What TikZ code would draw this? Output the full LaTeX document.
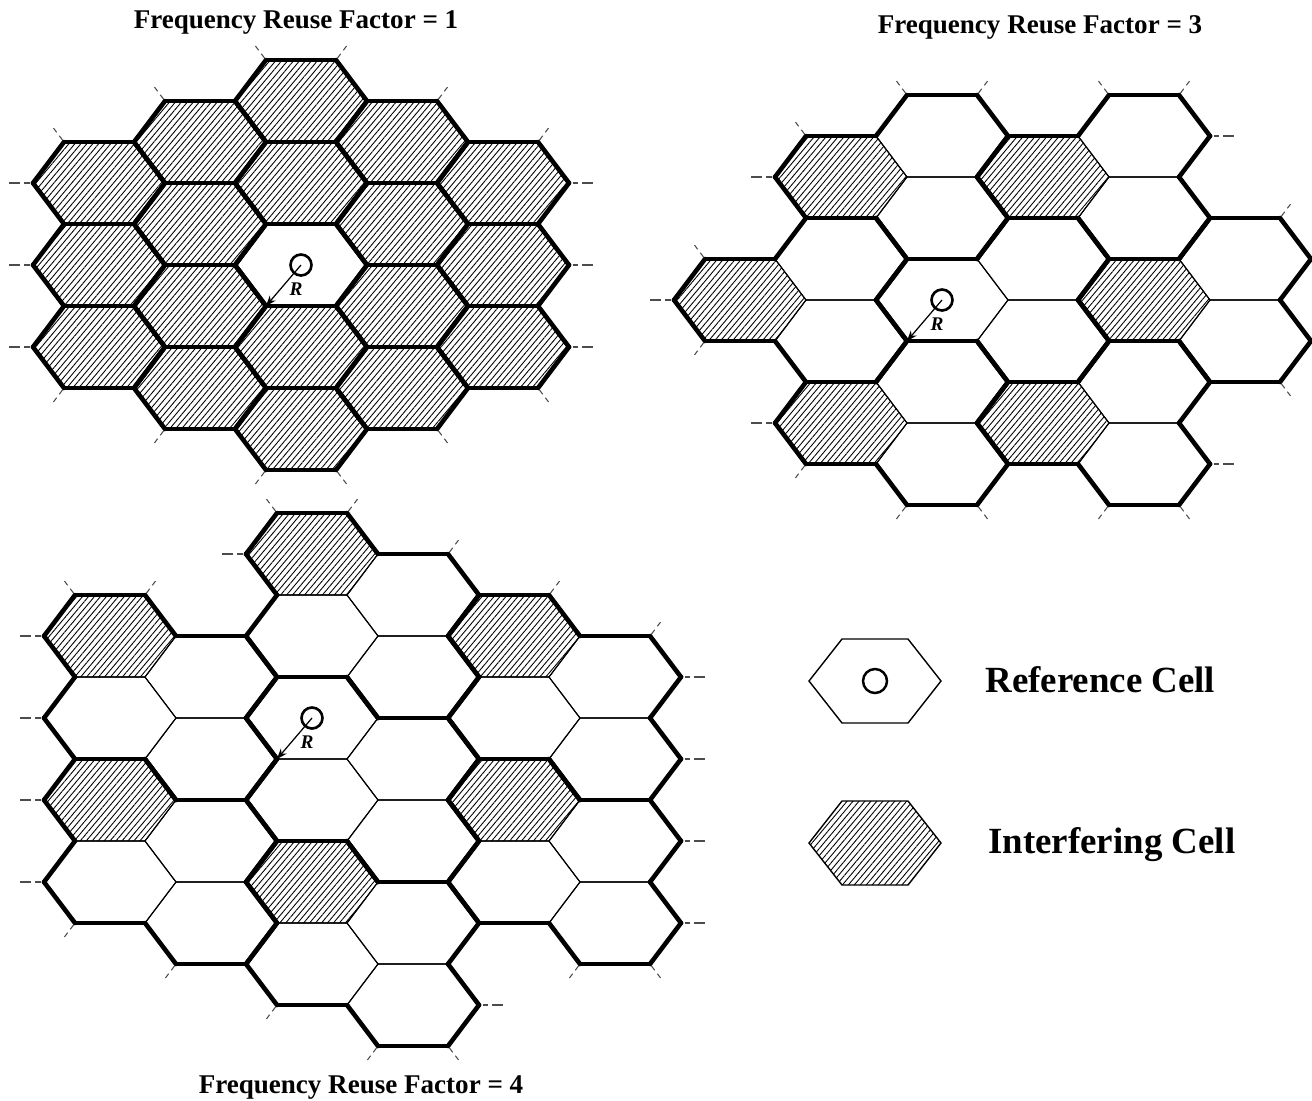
\documentclass[tikz,border=0pt]{standalone}
\usepackage{fontspec}
\setmainfont{Liberation Serif}
\usepackage{tikz}
\usetikzlibrary{patterns.meta,arrows.meta}

\pgfdeclarelayer{stubs}
\pgfdeclarelayer{thinl}
\pgfdeclarelayer{thickl}
\pgfsetlayers{stubs,main,thinl,thickl}

% one cell: centre x, centre y (px), fill style, edges drawn thick
\newcommand{\hexcell}[4]{%
  \begin{pgfonlayer}{stubs}
    \foreach \vx/\vy/\dx/\dy in {66/0/70/0, 35/-41/31/-41, -35/-41/-31/-41,
                                 -66/0/-70/0, -35/41/-31/41, 35/41/31/41}
      \draw[stub] ({#1+\vx+0.05*\dx},{#2+\vy+0.05*\dy})
               -- ({#1+\vx+0.34*\dx},{#2+\vy+0.34*\dy});
  \end{pgfonlayer}
  \path ({#1+66},{#2}) coordinate (v0) ({#1+35},{#2-41}) coordinate (v1)
        ({#1-35},{#2-41}) coordinate (v2) ({#1-66},{#2}) coordinate (v3)
        ({#1-35},{#2+41}) coordinate (v4) ({#1+35},{#2+41}) coordinate (v5)
        ({#1+66},{#2}) coordinate (v6);
  \fill[#3] (v0) -- (v1) -- (v2) -- (v3) -- (v4) -- (v5) -- cycle;
  \begin{pgfonlayer}{thinl}
    \draw[thinedge] (v0) -- (v1) -- (v2) -- (v3) -- (v4) -- (v5) -- cycle;
  \end{pgfonlayer}
  \begin{pgfonlayer}{thickl}
    \foreach \k in {#4} {\pgfmathtruncatemacro{\kn}{\k+1}\draw[thickedge] (v\k) -- (v\kn);}
  \end{pgfonlayer}
}
% cell on a grid: origin x, origin y, column, row, fill, thick edges
\newcommand{\gcell}[6]{\hexcell{#1+101*(#3)}{#2+41*(#4)}{#5}{#6}}
% reuse 3 cluster (left cell first)
\newcommand{\triclust}[5]{%
  \gcell{#1}{#2}{#3}{#4}{#5}{1,2,3,4}
  \gcell{#1}{#2}{#3+1}{#4-1}{cellwhite}{0,1,2,5}
  \gcell{#1}{#2}{#3+1}{#4+1}{cellwhite}{0,3,4,5}}
% reuse 4 cluster (top cell first)
\newcommand{\rhoclust}[5]{%
  \gcell{#1}{#2}{#3}{#4}{#5}{0,1,2,3}
  \gcell{#1}{#2}{#3+1}{#4+1}{cellwhite}{0,1,5}
  \gcell{#1}{#2}{#3}{#4+2}{cellwhite}{2,3,4}
  \gcell{#1}{#2}{#3+1}{#4+3}{cellwhite}{0,3,4,5}}

\begin{document}
\begin{tikzpicture}[x=0.02cm, y=-0.02cm,
  stub/.style={line width=0.6pt, black!70, dash pattern=on 3pt off 2.5pt on 6pt off 20pt},
  thinedge/.style={line width=0.6pt},
  thickedge/.style={line width=2.6pt, line cap=round},
  cellwhite/.style={fill=white},
  cellhatch/.style={fill=white, postaction={pattern={Lines[angle=50,distance=2.6pt,line width=0.5pt]}}},
  refmark/.style={circle, draw, line width=1.5pt, minimum size=0.42cm, inner sep=0pt, fill=white},
  rarrow/.style={-{Stealth[length=6pt,width=4.5pt]}, line width=0.7pt},
  rlabel/.style={font=\fontsize{11}{12}\selectfont\bfseries\itshape, inner sep=0pt},
  figtitle/.style={font=\fontsize{15.4}{18}\selectfont\bfseries, inner sep=0pt, anchor=base},
  legtext/.style={font=\fontsize{21}{24}\selectfont\bfseries, inner sep=0pt, anchor=base west},
  legedge/.style={line width=0.8pt}
]
  \useasboundingbox (0,0) rectangle (1312,1100);

  % Reuse factor 1
  \node[figtitle] (tone) at (296,28) {Frequency Reuse Factor = 1};
  \foreach \i/\j in {0/-4,0/-2,0/2,0/4,-1/-3,-1/-1,-1/1,-1/3,1/-3,1/-1,1/1,1/3,
                     -2/-2,-2/0,-2/2,2/-2,2/0,2/2}
    \gcell{301}{265}{\i}{\j}{cellhatch}{0,1,2,3,4,5};
  \gcell{301}{265}{0}{0}{cellwhite}{0,1,2,3,4,5}
  \node[refmark] (refone) at (301,265) {};
  \coordinate (tipone) at (266,306);
  \begin{pgfonlayer}{thickl}
    \draw[rarrow] (refone.center) -- (tipone);
  \end{pgfonlayer}
  \node[rlabel] (rone) at (296,289) {R};

  % Reuse factor 3
  \node[figtitle] (tthree) at (1040,33) {Frequency Reuse Factor = 3};
  \triclust{942}{300}{-1}{-3}{cellhatch}
  \triclust{942}{300}{1}{-3}{cellhatch}
  \triclust{942}{300}{-2}{0}{cellhatch}
  \triclust{942}{300}{0}{0}{cellwhite}
  \triclust{942}{300}{2}{0}{cellhatch}
  \triclust{942}{300}{-1}{3}{cellhatch}
  \triclust{942}{300}{1}{3}{cellhatch}
  \node[refmark] (refthree) at (942,300) {};
  \coordinate (tipthree) at (907,341);
  \begin{pgfonlayer}{thickl}
    \draw[rarrow] (refthree.center) -- (tipthree);
  \end{pgfonlayer}
  \node[rlabel] (rthree) at (937,324) {R};

  % Reuse factor 4
  \node[figtitle] (tfour) at (361,1093) {Frequency Reuse Factor = 4};
  \rhoclust{312}{718}{0}{-4}{cellhatch}
  \rhoclust{312}{718}{-2}{-2}{cellhatch}
  \rhoclust{312}{718}{2}{-2}{cellhatch}
  \rhoclust{312}{718}{0}{0}{cellwhite}
  \rhoclust{312}{718}{-2}{2}{cellhatch}
  \rhoclust{312}{718}{2}{2}{cellhatch}
  \rhoclust{312}{718}{0}{4}{cellhatch}
  \node[refmark] (reffour) at (312,718) {};
  \coordinate (tipfour) at (277,759);
  \begin{pgfonlayer}{thickl}
    \draw[rarrow] (reffour.center) -- (tipfour);
  \end{pgfonlayer}
  \node[rlabel] (rfour) at (307,742) {R};

  % Legend
  \draw[legedge, fill=white, shift={(875,681)}]
    (66,0) -- (33,-42) -- (-33,-42) -- (-66,0) -- (-33,42) -- (33,42) -- cycle;
  \node[refmark, minimum size=0.48cm, line width=1.4pt] (legref) at (875,681) {};
  \node[legtext] (legreft) at (985,692) {Reference Cell};
  \draw[legedge, cellhatch, shift={(875,843)}]
    (66,0) -- (33,-42) -- (-33,-42) -- (-66,0) -- (-33,42) -- (33,42) -- cycle;
  \node[legtext] (leginft) at (988,853) {Interfering Cell};
\end{tikzpicture}
\end{document}
